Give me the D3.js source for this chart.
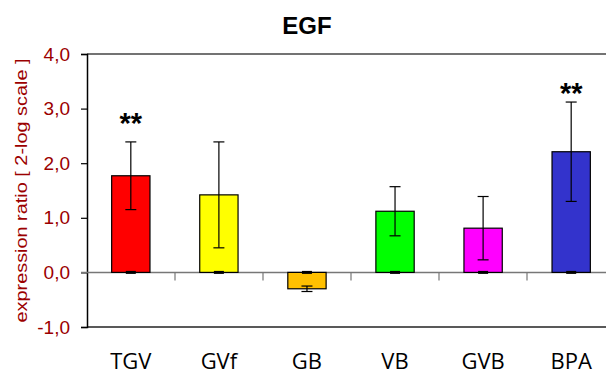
<!DOCTYPE html>
<html><head><meta charset="utf-8">
<script src="https://cdn.jsdelivr.net/npm/d3@7"></script>
<style>body{margin:0;background:#fff}svg{display:block}</style>
</head><body>
<svg id="c" width="606" height="374"></svg>
<script>
const categories = ["TGV","GVf","GB","VB","GVB","BPA"];
const values = [1.77, 1.42, -0.30, 1.12, 0.81, 2.21];
const errors = [0.62, 0.97, 0.05, 0.45, 0.58, 0.91];
const colors = ["#FF0000","#FFFF00","#FFC000","#00FF00","#FF00FF","#3333CC"];
const significance = ["**","","","","","**"];
const significanceAt = [2.55, null, null, null, null, 3.10];
const yTicks = [-1,0,1,2,3,4];
const yTickLabels = ["-1,0","0,0","1,0","2,0","3,0","4,0"];

const svg = d3.select("#c");
const L = 87, R = 615, T = 54, B = 327;
const x = d3.scaleBand().domain(categories).range([L, R]).paddingInner(0.565).paddingOuter(0.28);
const xb = d3.scaleBand().domain(categories).range([L, R]);
const y = d3.scaleLinear().domain([-1, 4]).range([B, T]);
const dark = "#9B0000";

// top & bottom border
svg.append("line").attr("x1", L).attr("x2", 606).attr("y1", T).attr("y2", T).attr("stroke", "#444").attr("stroke-width", 1.3);
svg.append("line").attr("x1", L).attr("x2", 606).attr("y1", B).attr("y2", B).attr("stroke", "#222").attr("stroke-width", 1.3);

// y axis
const ya = svg.append("g").attr("transform", `translate(${L},0)`)
  .call(d3.axisLeft(y).tickValues(yTicks).tickFormat((d,i)=>yTickLabels[i]).tickSize(6).tickPadding(11));
ya.select(".domain").attr("stroke", "#000").attr("stroke-width", 1.5);
ya.selectAll(".tick line").attr("stroke", "#000").attr("stroke-width", 1.2);
ya.selectAll(".tick text").attr("fill", dark).attr("font-family", "Liberation Sans, Arial, sans-serif").attr("font-size", 19);

// zero line
svg.append("line").attr("x1", L - 6).attr("x2", 606).attr("y1", y(0)).attr("y2", y(0)).attr("stroke", "#777").attr("stroke-width", 1.5);
// category separators
svg.selectAll(".sep").data(categories.slice(1)).enter().append("line")
  .attr("x1", d => xb(d)).attr("x2", d => xb(d))
  .attr("y1", y(0)).attr("y2", y(0) + 8).attr("stroke", "#777").attr("stroke-width", 1.2);

// bars
svg.selectAll(".bar").data(categories).enter().append("rect")
  .attr("x", d => x(d)).attr("width", x.bandwidth())
  .attr("y", (d,i) => y(Math.max(0, values[i])))
  .attr("height", (d,i) => Math.abs(y(values[i]) - y(0)))
  .attr("fill", (d,i) => colors[i]).attr("stroke", "#000").attr("stroke-width", 1.2);

// error bars
const cx = d => x(d) + x.bandwidth()/2;
categories.forEach((d,i) => {
  const g = svg.append("g").attr("stroke", "#000").attr("stroke-width", 1.2);
  const hi = y(values[i] + errors[i]), lo = y(values[i] - errors[i]);
  g.append("line").attr("x1", cx(d)).attr("x2", cx(d)).attr("y1", hi).attr("y2", lo);
  g.append("line").attr("x1", cx(d) - 5.5).attr("x2", cx(d) + 5.5).attr("y1", hi).attr("y2", hi);
  g.append("line").attr("x1", cx(d) - 5.5).attr("x2", cx(d) + 5.5).attr("y1", lo).attr("y2", lo);
  svg.append("line").attr("x1", cx(d) - 5).attr("x2", cx(d) + 5).attr("y1", y(0)).attr("y2", y(0)).attr("stroke", "#000").attr("stroke-width", 3);
  if (significance[i]) {
    svg.append("text").attr("x", cx(d)).attr("y", y(significanceAt[i])).attr("text-anchor", "middle")
      .attr("font-family", "Liberation Sans, Arial, sans-serif").attr("font-weight", "bold").attr("font-size", 29)
      .text(significance[i]);
  }
});

// x labels
svg.selectAll(".xl").data(categories).enter().append("text")
  .attr("x", d => cx(d)).attr("y", 369).attr("text-anchor", "middle")
  .attr("font-family", "Open Sans, Noto Sans, sans-serif").attr("font-size", 22).attr("fill", "#000").text(d => d);

// title
svg.append("text").attr("x", 307).attr("y", 34).attr("text-anchor", "middle")
  .attr("font-family", "Liberation Sans, Arial, sans-serif").attr("font-weight", "bold").attr("font-size", 24).text("EGF");

// y title
svg.append("text").attr("transform", `translate(27,190.5) rotate(-90)`).attr("text-anchor", "middle")
  .attr("font-family", "Liberation Sans, Arial, sans-serif").attr("font-size", 16.5).attr("fill", dark)
  .attr("textLength", 264).attr("lengthAdjust", "spacingAndGlyphs")
  .text("expression ratio [ 2-log scale ]");
</script>
</body></html>
